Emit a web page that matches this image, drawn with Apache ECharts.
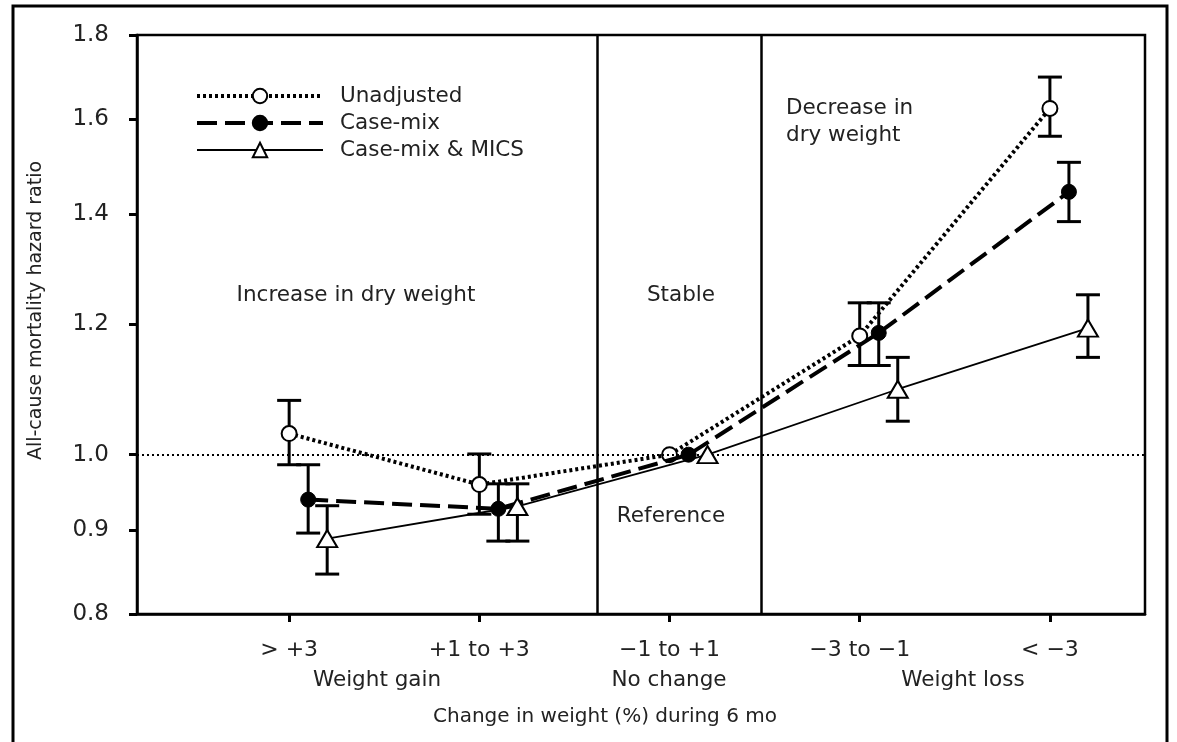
<!DOCTYPE html>
<html><head><meta charset="utf-8">
<script src="https://cdn.jsdelivr.net/npm/echarts@6/dist/echarts.min.js"></script>
<style>html,body{margin:0;padding:0;background:#fff}#c{width:1177px;height:742px}</style>
</head><body><div id="c"></div>
<script>
const categories = ['> +3', '+1 to +3', '\u22121 to +1', '\u22123 to \u22121', '< \u22123'];
const yTicks = [0.8, 0.9, 1.0, 1.2, 1.4, 1.6, 1.8];
const unadjusted     = [1.030, 0.959, 1.0, 1.181, 1.624];
const unadjustedLow  = [0.986, 0.920, null, 1.133, 1.562];
const unadjustedHigh = [1.079, 1.001, null, 1.237, 1.697];
const caseMix        = [0.939, 0.927, 1.0, 1.186, 1.445];
const caseMixLow     = [0.896, 0.886, null, 1.133, 1.386];
const caseMixHigh    = [0.986, 0.960, null, 1.237, 1.506];
const caseMixMics     = [0.889, 0.930, 1.0, 1.096, 1.194];
const caseMixMicsLow  = [0.846, 0.886, null, 1.048, 1.146];
const caseMixMicsHigh = [0.931, 0.960, null, 1.146, 1.251];

const FONT = 'DejaVu Sans';
const TXT = '#222';
const L = Math.log;

function pts(vals, off) { return vals.map((v, i) => [i + off, L(v)]); }
function bars(lo, hi, off) {
  const out = [];
  lo.forEach((v, i) => { if (v != null) out.push([i + off, L(v), L(hi[i])]); });
  return out;
}
function errSeries(data, z) {
  return {
    type: 'custom', silent: true, z: z, data: data,
    encode: { x: 0, y: [1, 2] },
    renderItem: function (params, api) {
      const x = api.value(0);
      const p1 = api.coord([x, api.value(1)]);
      const p2 = api.coord([x, api.value(2)]);
      const w = 12;
      const st = { stroke: '#000', lineWidth: 3 };
      return { type: 'group', children: [
        { type: 'line', shape: { x1: p1[0], y1: p1[1], x2: p2[0], y2: p2[1] }, style: st },
        { type: 'line', shape: { x1: p1[0] - w, y1: p1[1], x2: p1[0] + w, y2: p1[1] }, style: st },
        { type: 'line', shape: { x1: p2[0] - w, y1: p2[1], x2: p2[0] + w, y2: p2[1] }, style: st }
      ]};
    }
  };
}
function txt(s, x, y, align) {
  return { type: 'text', x: x, y: y, silent: true,
    style: { text: s, font: '21.5px "' + FONT + '"', fill: TXT, align: align || 'center', verticalAlign: 'middle' } };
}

const chart = echarts.init(document.getElementById('c'));
chart.setOption({
  animation: false,
  backgroundColor: '#fff',
  textStyle: { fontFamily: FONT },
  grid: { left: 137, right: 32, top: 35, bottom: 128, show: true, borderColor: '#000', borderWidth: 2.5 },
  legend: {
    orient: 'vertical', left: 195, top: 85, padding: 0, itemWidth: 126, itemHeight: 18, itemGap: 5,
    data: [
      { name: 'Unadjusted', lineStyle: { width: 4 } },
      { name: 'Case-mix', lineStyle: { width: 4 } },
      { name: 'Case-mix & MICS', lineStyle: { width: 2 } }
    ],
    textStyle: { fontSize: 21.5, color: TXT, fontFamily: FONT, padding: [0, 0, 0, 12] }
  },
  xAxis: {
    type: 'value', min: -0.8, max: 4.5,
    splitLine: { show: false },
    axisLine: { show: true, onZero: false, lineStyle: { color: '#000', width: 2.5 } },
    axisTick: { show: true, customValues: [0, 1, 2, 3, 4], length: 8, lineStyle: { color: '#000', width: 3 } },
    axisLabel: { customValues: [0, 1, 2, 3, 4], formatter: v => categories[Math.round(v)], fontSize: 22, color: TXT, margin: 25, fontFamily: FONT },
    name: 'Change in weight (%) during 6 mo', nameLocation: 'middle', nameGap: 93,
    nameTextStyle: { fontSize: 20, color: TXT, fontFamily: FONT, padding: [0, 72, 0, 0] }
  },
  yAxis: {
    type: 'value', min: L(0.8), max: L(1.8),
    splitLine: { show: false },
    axisLine: { show: true, onZero: false, lineStyle: { color: '#000', width: 2.5 } },
    axisTick: { show: true, customValues: yTicks.map(L), length: 8, lineStyle: { color: '#000', width: 3 } },
    axisLabel: { customValues: yTicks.map(L), formatter: v => Math.exp(v).toFixed(1), fontSize: 23, color: TXT, margin: 28, fontFamily: FONT },
    name: 'All-cause mortality hazard ratio', nameLocation: 'middle', nameGap: 91,
    nameTextStyle: { fontSize: 19, color: TXT, fontFamily: FONT, padding: [0, 0, 0, 28] }
  },
  series: [
    errSeries(bars(unadjustedLow, unadjustedHigh, 0), 2),
    errSeries(bars(caseMixLow, caseMixHigh, 0.1), 2),
    errSeries(bars(caseMixMicsLow, caseMixMicsHigh, 0.2), 2),
    {
      name: 'Unadjusted', type: 'line', z: 4, data: pts(unadjusted, 0),
      symbol: 'circle', symbolSize: 15,
      itemStyle: { color: '#fff', borderColor: '#000', borderWidth: 2 },
      lineStyle: { color: '#000', width: 4, type: [3, 3] },
      markLine: {
        silent: true, symbol: 'none', label: { show: false },
        data: [
          { yAxis: 0, lineStyle: { color: '#000', width: 2, type: [2, 3] } },
          { xAxis: 1.62, lineStyle: { color: '#000', width: 2.5, type: 'solid' } },
          { xAxis: 2.485, lineStyle: { color: '#000', width: 2.5, type: 'solid' } }
        ]
      }
    },
    {
      name: 'Case-mix', type: 'line', z: 5, data: pts(caseMix, 0.1),
      symbol: 'circle', symbolSize: 15,
      itemStyle: { color: '#000', borderColor: '#000', borderWidth: 1 },
      lineStyle: { color: '#000', width: 4, type: [20, 8] }
    },
    {
      name: 'Case-mix & MICS', type: 'line', z: 6, data: pts(caseMixMics, 0.2),
      symbol: 'triangle', symbolSize: [20, 17],
      itemStyle: { color: '#fff', borderColor: '#000', borderWidth: 2 },
      lineStyle: { color: '#000', width: 1.8, type: 'solid' }
    }
  ],
  graphic: [
    { type: 'rect', shape: { x: 13, y: 6, width: 1154, height: 760 }, style: { fill: 'none', stroke: '#000', lineWidth: 3 }, silent: true, z: 100 },
    txt('Increase in dry weight', 356, 295),
    txt('Stable', 681, 295),
    txt('Decrease in', 786, 108, 'left'),
    txt('dry weight', 786, 135, 'left'),
    txt('Reference', 671, 516),
    txt('Weight gain', 377, 680),
    txt('No change', 669, 680),
    txt('Weight loss', 963, 680)
  ]
});
</script></body></html>
